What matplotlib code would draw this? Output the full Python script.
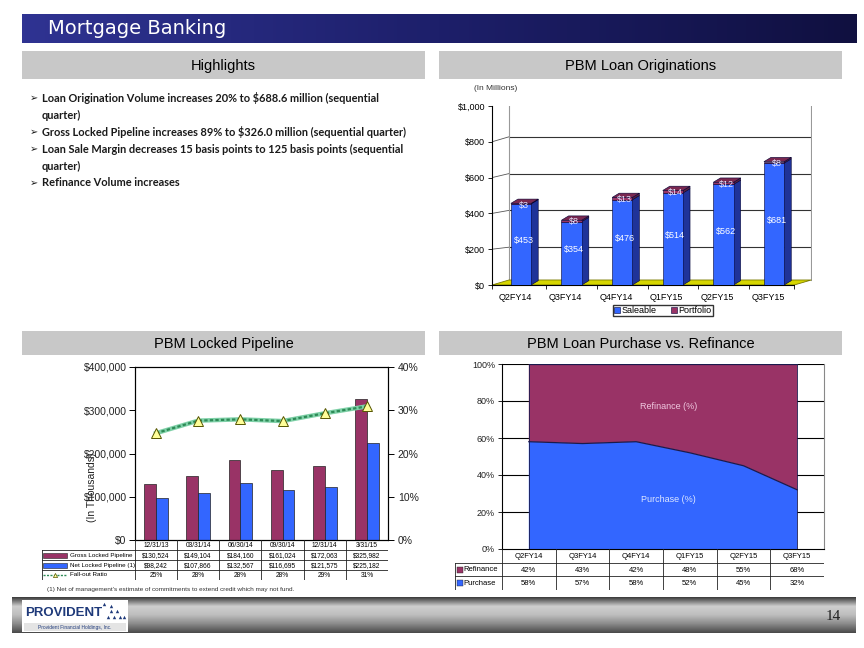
import numpy as np
import matplotlib
matplotlib.use('Agg')
import matplotlib.pyplot as plt
from matplotlib.patches import Rectangle, Polygon
from matplotlib.colors import LinearSegmentedColormap

plt.rcParams['font.family'] = ['Liberation Sans', 'DejaVu Sans']

# ---- data ----
quarters = ['Q2FY14', 'Q3FY14', 'Q4FY14', 'Q1FY15', 'Q2FY15', 'Q3FY15']
saleable = [453, 354, 476, 514, 562, 681]
portfolio = [3, 8, 13, 14, 12, 8]
orig_ticks = [0, 200, 400, 600, 800, 1000]

pipe_dates = ['12/31/13', '03/31/14', '06/30/14', '09/30/14', '12/31/14', '3/31/15']
gross = [130524, 149104, 184160, 161024, 172063, 325982]
net = [98242, 107866, 132567, 116695, 121575, 225182]
fallout = [24.7, 27.6, 27.9, 27.5, 29.3, 30.9]
fallout_lbl = ['25%', '28%', '28%', '28%', '29%', '31%']
pipe_ticks = [0, 100000, 200000, 300000, 400000]
pct_ticks = [0, 10, 20, 30, 40]

refinance = [42, 43, 42, 48, 55, 68]
purchase = [58, 57, 58, 52, 45, 32]
mix_ticks = [0, 20, 40, 60, 80, 100]

bullets = [
    ('Loan Origination Volume increases 20% to $688.6 million (sequential', True),
    ('quarter)', False),
    ('Gross Locked Pipeline increases 89% to $326.0 million (sequential quarter)', True),
    ('Loan Sale Margin decreases 15 basis points to 125 basis points (sequential', True),
    ('quarter)', False),
    ('Refinance Volume increases', True),
]

BLUE = '#3366ff'
BLUE_D = '#1f3399'
MAROON = '#993366'
MAROON_D = '#5c1f3d'

W, H = 864, 648
fig = plt.figure(figsize=(W / 100, H / 100), dpi=100)


def box(x0, y0, x1, y1):
    return [x0 / W, 1 - y1 / H, (x1 - x0) / W, (y1 - y0) / H]


# ---- slide background ----
bg = fig.add_axes([0, 0, 1, 1], zorder=0)
bg.set_xlim(0, W)
bg.set_ylim(H, 0)
bg.axis('off')

title_cmap = LinearSegmentedColormap.from_list('t', ['#2f3392', '#1d1f6a', '#101040'])
bg.imshow(np.linspace(0, 1, 256)[None, :], extent=(22, 857, 43, 14), cmap=title_cmap, aspect='auto')
bg.text(48, 29, 'Mortgage Banking', color='white', fontsize=14, family='DejaVu Sans', va='center')

for (x0, y0, x1, y1, t) in [(22, 51, 425, 79, 'Highlights'),
                            (439, 51, 842, 79, 'PBM Loan Originations'),
                            (22, 331, 425, 355, 'PBM Locked Pipeline'),
                            (439, 331, 842, 355, 'PBM Loan Purchase vs. Refinance')]:
    bg.add_patch(Rectangle((x0, y0), x1 - x0, y1 - y0, color='#c8c8c8', lw=0))
    bg.text((x0 + x1) / 2, (y0 + y1) / 2 + 1, t, fontsize=10.5, ha='center', va='center')

yb = 98
for txt, first in bullets:
    if first:
        bg.text(30, yb, '\u27a2', fontsize=7, family='DejaVu Sans', va='center', color='#1a1a1a')
    bg.text(42, yb, txt, fontsize=7.9, family='Lato', weight='bold', va='center', color='#1a1a1a')
    yb += 17

# footer
foot_cmap = LinearSegmentedColormap.from_list('f', ['#3c3c3c', '#cfcfcf', '#bdbdbd', '#8a8a8a', '#4a4a4a'])
bg.imshow(np.linspace(0, 1, 64)[:, None], extent=(12, 856, 633, 597), cmap=foot_cmap, aspect='auto')
bg.add_patch(Rectangle((22, 600), 106, 32, color='white', lw=0))
bg.add_patch(Rectangle((24, 623), 102, 8, color='#e4e4e4', lw=0))
bg.text(25, 613, 'PROVIDENT', fontsize=9.5, weight='bold', color='#1f3a7a', va='center')
bg.scatter([108, 114, 120, 111, 117, 124, 104, 111], [617, 617, 617, 611, 611, 617, 604, 606],
           marker='^', s=6, color='#1f3a7a', lw=0)
bg.text(75, 627, 'Provident Financial Holdings, Inc.', fontsize=3.5, color='#1f3a7a', va='center', ha='center')
bg.text(826, 617, '14', fontsize=11, family='Liberation Serif', va='center', color='#222222')
bg.text(47, 589, "(1) Net of management's estimate of commitments to extend credit which may not fund.",
        fontsize=4.6, va='center', color='#333333')

# ---- PBM Loan Originations (pseudo 3D stacked bars) ----
ax = fig.add_axes(box(492, 106, 812, 285), zorder=2)
ax.patch.set_alpha(0)
x = np.arange(len(quarters))
xmin, xfr = -0.573, 5.4
dxw, dyw = 0.336, 28
dx, dy, w = 0.14, 24, 0.40
ax.set_xlim(xmin, 5.75)
ax.set_ylim(0, 1000)
for s in ['top', 'right']:
    ax.spines[s].set_visible(False)
ax.spines['left'].set_bounds(0, 1000)
ax.spines['bottom'].set_bounds(xmin, xfr)
ax.spines['left'].set_linewidth(0.8)
ax.spines['bottom'].set_linewidth(0.8)
# back wall, grid, floor
for v in orig_ticks[1:]:
    yv = v + dyw * v / 1000 + dyw * 0.2
    ax.plot([xmin + dxw, xfr + dxw], [yv, yv], color='#333333', lw=0.8, zorder=1)
    ax.plot([xmin, xmin + dxw], [v, yv], color='#555555', lw=0.6, zorder=1)
ax.plot([xmin + dxw] * 2, [dyw, 1000 + dyw * 1.2], color='#999999', lw=0.8, zorder=1)
ax.plot([xfr + dxw] * 2, [dyw, 1000 + dyw * 1.2], color='#999999', lw=0.8, zorder=1)
ax.add_patch(Polygon([(xmin, 0), (xfr, 0), (xfr + dxw, dyw), (xmin + dxw, dyw)],
                     closed=True, fc='#d6d600', ec='#7a7a00', lw=0.6, zorder=1))
tot = np.array(saleable) + np.array(portfolio)
for i in range(len(x)):
    r = x[i] + w / 2
    ax.add_patch(Polygon([(r, 0), (r + dx, dy), (r + dx, saleable[i] + dy), (r, saleable[i])],
                         fc=BLUE_D, ec='#000033', lw=0.4, zorder=3))
    ax.add_patch(Polygon([(r, saleable[i]), (r + dx, saleable[i] + dy), (r + dx, tot[i] + dy), (r, tot[i])],
                         fc=MAROON_D, ec='#000033', lw=0.4, zorder=3))
    ax.add_patch(Polygon([(x[i] - w / 2, tot[i]), (r, tot[i]), (r + dx, tot[i] + dy),
                          (x[i] - w / 2 + dx, tot[i] + dy)],
                         fc='#7a2850', ec='#000033', lw=0.4, zorder=3))
b1 = ax.bar(x, saleable, width=w, color=BLUE, edgecolor='#000033', lw=0.4, zorder=3, label='Saleable')
b2 = ax.bar(x, portfolio, width=w, bottom=saleable, color=MAROON, edgecolor='#000033', lw=0.4, zorder=3,
            label='Portfolio')
for i in range(len(x)):
    ax.text(x[i] + 0.05, saleable[i] * 0.5 + 20, f'${saleable[i]}', color='white', fontsize=6.5,
            ha='center', va='center', zorder=4)
    ax.text(x[i] + 0.05, tot[i] - 10, f'${portfolio[i]}', color='#e6e6ff', fontsize=6.5,
            ha='center', va='center', zorder=4)
ax.set_yticks(orig_ticks)
ax.set_yticklabels([f'${v:,}' for v in orig_ticks], fontsize=6.5)
ax.set_xticks(x - 0.12)
ax.set_xticklabels(quarters, fontsize=6.5)
ax.tick_params(axis='x', length=0, pad=6)
ax.set_xticks(np.append(x[:-1] + 0.5, [xmin, xfr]), minor=True)
ax.tick_params(axis='x', which='minor', length=3, width=0.6)
ax.tick_params(axis='y', length=3, width=0.6, pad=2)
ax.legend(handles=[b1, b2], loc='upper center', bbox_to_anchor=(0.534, -0.11), ncol=2, fontsize=6.5,
          frameon=True, fancybox=False, edgecolor='black', handlelength=0.7, handleheight=0.7,
          handletextpad=0.2, columnspacing=1.5, borderpad=0.15, borderaxespad=0)
bg.text(474, 88, '(In Millions)', fontsize=6, va='center', color='#333333')

# ---- PBM Locked Pipeline ----
ax3 = fig.add_axes(box(135, 367, 388, 540), zorder=2)
bw = 0.28
ax3.bar(x - bw / 2, gross, width=bw, color=MAROON, edgecolor='#222222', lw=0.5)
ax3.bar(x + bw / 2, net, width=bw, color=BLUE, edgecolor='#222222', lw=0.5)
ax3.set_xlim(-0.5, 5.5)
ax3.set_ylim(0, 400000)
ax3.set_xticks([])
ax3.set_yticks(pipe_ticks)
ax3.set_yticklabels([f'${v:,}' for v in pipe_ticks], fontsize=7.5, color='#222222')
ax3.tick_params(axis='y', length=4, width=0.7, pad=2)
ax3r = ax3.twinx()
ax3r.set_ylim(0, 40)
ax3r.set_yticks(pct_ticks)
ax3r.set_yticklabels([f'{v}%' for v in pct_ticks], fontsize=7.5, color='#222222')
ax3r.tick_params(axis='y', length=4, width=0.7, pad=3)
ax3r.plot(x, fallout, color='#7fd1a8', lw=3.2, zorder=3)
ax3r.plot(x, fallout, color='#2e8b57', lw=1.6, ls=(0, (1.5, 1)), zorder=4,
          marker='^', ms=6.5, mfc='#ffff99', mec='#555500', mew=0.7)
# the reference draws this label on top of the tick labels
bg.text(92, 487, '(In Thousands)', fontsize=7.5, rotation=90, ha='center', va='center', color='#222222')

tb3 = fig.add_axes(box(42, 540, 388, 580), zorder=2)
tb3.set_xlim(-2.7, 5.5)
tb3.set_ylim(4, 0)
tb3.axis('off')
for k in range(7):
    tb3.plot([k - 0.5, k - 0.5], [0, 4], color='#222222', lw=0.6)
tb3.plot([-2.7, -2.7], [1, 4], color='#222222', lw=0.6)
for r in [1, 2, 3, 4]:
    tb3.plot([-2.7, 5.5], [r, r], color='#222222', lw=0.6)
rows3 = [[f'${v:,}' for v in gross], [f'${v:,}' for v in net], fallout_lbl]
for i in range(len(x)):
    tb3.text(i, 0.55, pipe_dates[i], fontsize=4.8, ha='center', va='center')
    for r in range(3):
        tb3.text(i, r + 1.55, rows3[r][i], fontsize=4.8, ha='center', va='center')
tb3.add_patch(Rectangle((-2.67, 1.3), 0.57, 0.45, fc=MAROON, ec='#222222', lw=0.4))
tb3.add_patch(Rectangle((-2.67, 2.3), 0.57, 0.45, fc=BLUE, ec='#222222', lw=0.4))
tb3.plot([-2.67, -2.1], [3.5, 3.5], color='#2e8b57', lw=1, ls=(0, (1.5, 1)))
tb3.plot([-2.385], [3.5], marker='^', ms=3, mfc='#ffff99', mec='#555500', mew=0.5)
for r, t in enumerate(['Gross Locked Pipeline', 'Net Locked Pipeline (1)', 'Fall-out Ratio']):
    tb3.text(-2.04, r + 1.5, t, fontsize=4.5, va='center')

# ---- PBM Loan Purchase vs. Refinance ----
ax4 = fig.add_axes(box(502, 364, 824, 549), zorder=2)
ax4.stackplot(x, purchase, refinance, colors=[BLUE, MAROON], zorder=2)
ax4.plot(x, purchase, color='#1a1a4d', lw=0.9, zorder=3)
ax4.plot(x, np.array(purchase) + np.array(refinance), color='#1a1a4d', lw=0.9, zorder=3)
ax4.plot([0, 0], [0, 100], color='#1a1a4d', lw=0.6, zorder=3)
ax4.plot([5, 5], [0, 100], color='#1a1a4d', lw=0.6, zorder=3)
for v in mix_ticks[1:]:
    ax4.axhline(v, color='black', lw=0.8, zorder=1)
ax4.set_xlim(-0.5, 5.5)
ax4.set_ylim(0, 100)
ax4.set_xticks([])
ax4.set_yticks(mix_ticks)
ax4.set_yticklabels([f'{v}%' for v in mix_ticks], fontsize=6.5, color='#222222')
ax4.tick_params(axis='y', length=3, width=0.6, pad=2)
ax4.spines['top'].set_visible(False)
ax4.spines['right'].set_color('#888888')
ax4.text(2.6, 77, 'Refinance (%)', color='#f0c8e0', fontsize=6.5, ha='center', va='center', zorder=4)
ax4.text(2.6, 27, 'Purchase (%)', color='#dde6ff', fontsize=6.5, ha='center', va='center', zorder=4)

tb4 = fig.add_axes(box(455, 549, 824, 590), zorder=2)
tb4.set_xlim(-1.375, 5.5)
tb4.set_ylim(3, 0)
tb4.axis('off')
for k in range(7):
    tb4.plot([k - 0.5, k - 0.5], [0, 3], color='#222222', lw=0.6)
tb4.plot([-1.375, -1.375], [1, 3], color='#222222', lw=0.6)
for r in [1, 2, 3]:
    tb4.plot([-1.375, 5.5], [r, r], color='#222222', lw=0.6)
rows4 = [[f'{v}%' for v in refinance], [f'{v}%' for v in purchase]]
for i in range(len(x)):
    tb4.text(i, 0.55, quarters[i], fontsize=5.5, ha='center', va='center')
    for r in range(2):
        tb4.text(i, r + 1.55, rows4[r][i], fontsize=5.5, ha='center', va='center')
for r, (t, c) in enumerate([('Refinance', MAROON), ('Purchase', BLUE)]):
    tb4.add_patch(Rectangle((-1.33, r + 1.3), 0.1, 0.42, fc=c, ec='#222222', lw=0.3))
    tb4.text(-1.21, r + 1.5, t, fontsize=5.5, va='center')

fig.savefig('out.png', dpi=100)
